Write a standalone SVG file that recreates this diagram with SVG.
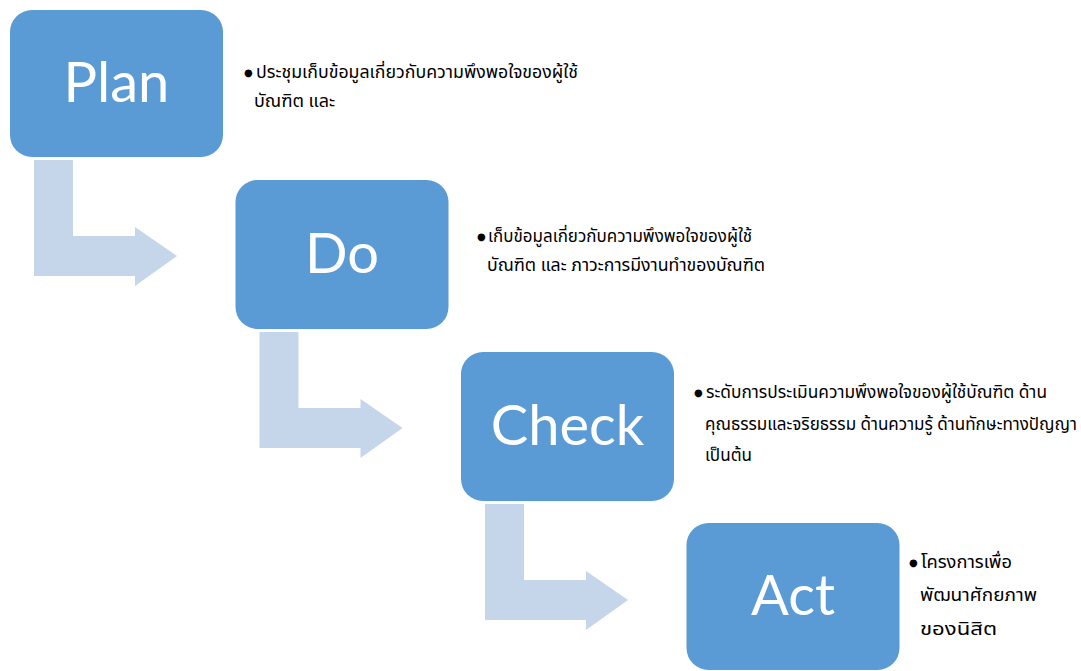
<svg xmlns="http://www.w3.org/2000/svg" width="1081" height="671" viewBox="0 0 1081 671">
<style>
.box{fill:#5b9bd5;}
.lbl{fill:#ffffff;font-family:Lato,"Open Sans",sans-serif;font-size:56px;text-anchor:middle;}
.arr{fill:#c5d5ea;}
.txt{fill:#000000;font-family:"Noto Sans Thai",Tahoma,"Noto Sans","DejaVu Sans",sans-serif;font-size:17px;}
.bul{fill:#000000;font-family:"DejaVu Sans",sans-serif;font-size:10px;}
</style>
<defs>
<path id="bent" d="M0,0 H39 V76 H101 V67 L143,96 L101,126 V116 H0 Z"/>
</defs>
<rect width="1081" height="671" fill="#ffffff"/>
<g id="connectors">
<use href="#bent" class="arr" x="34" y="160"/>
<use href="#bent" class="arr" x="259.5" y="332"/>
<use href="#bent" class="arr" x="485" y="504"/>
</g>
<g id="plan">
<rect class="box" x="10" y="10" width="213" height="147" rx="22"/>
<text class="lbl" x="116.5" y="102">Plan</text>
<text class="bul" x="244" y="76">●</text>
<text class="txt" x="256" y="78" textLength="322" lengthAdjust="spacingAndGlyphs">ประชุมเก็บข้อมูลเกี่ยวกับความพึงพอใจของผู้ใช้</text>
<text class="txt" x="254" y="107" textLength="81" lengthAdjust="spacingAndGlyphs">บัณฑิต และ</text>
</g>
<g id="do">
<rect class="box" x="235.5" y="180" width="213" height="149" rx="22"/>
<text class="lbl" x="342" y="273">Do</text>
<text class="bul" x="477" y="240">●</text>
<text class="txt" x="488" y="242" textLength="264" lengthAdjust="spacingAndGlyphs">เก็บข้อมูลเกี่ยวกับความพึงพอใจของผู้ใช้</text>
<text class="txt" x="487" y="271" textLength="278" lengthAdjust="spacingAndGlyphs">บัณฑิต และ ภาวะการมีงานทำของบัณฑิต</text>
</g>
<g id="check">
<rect class="box" x="461" y="352" width="213" height="149" rx="22"/>
<text class="lbl" x="567.5" y="445">Check</text>
<text class="bul" x="694" y="396">●</text>
<text class="txt" x="706" y="398" textLength="341" lengthAdjust="spacingAndGlyphs">ระดับการประเมินความพึงพอใจของผู้ใช้บัณฑิต ด้าน</text>
<text class="txt" x="705" y="430" textLength="372" lengthAdjust="spacingAndGlyphs">คุณธรรมและจริยธรรม ด้านความรู้ ด้านทักษะทางปัญญา</text>
<text class="txt" x="705" y="461" textLength="47" lengthAdjust="spacingAndGlyphs">เป็นต้น</text>
</g>
<g id="act">
<rect class="box" x="686.5" y="523" width="213" height="147" rx="22"/>
<text class="lbl" x="793" y="615">Act</text>
<text class="bul" x="909" y="566">●</text>
<text class="txt" x="921" y="568" textLength="91" lengthAdjust="spacingAndGlyphs">โครงการเพื่อ</text>
<text class="txt" x="920" y="601" textLength="117" lengthAdjust="spacingAndGlyphs">พัฒนาศักยภาพ</text>
<text class="txt" x="920" y="635" textLength="77" lengthAdjust="spacingAndGlyphs">ของนิสิต</text>
</g>
</svg>
